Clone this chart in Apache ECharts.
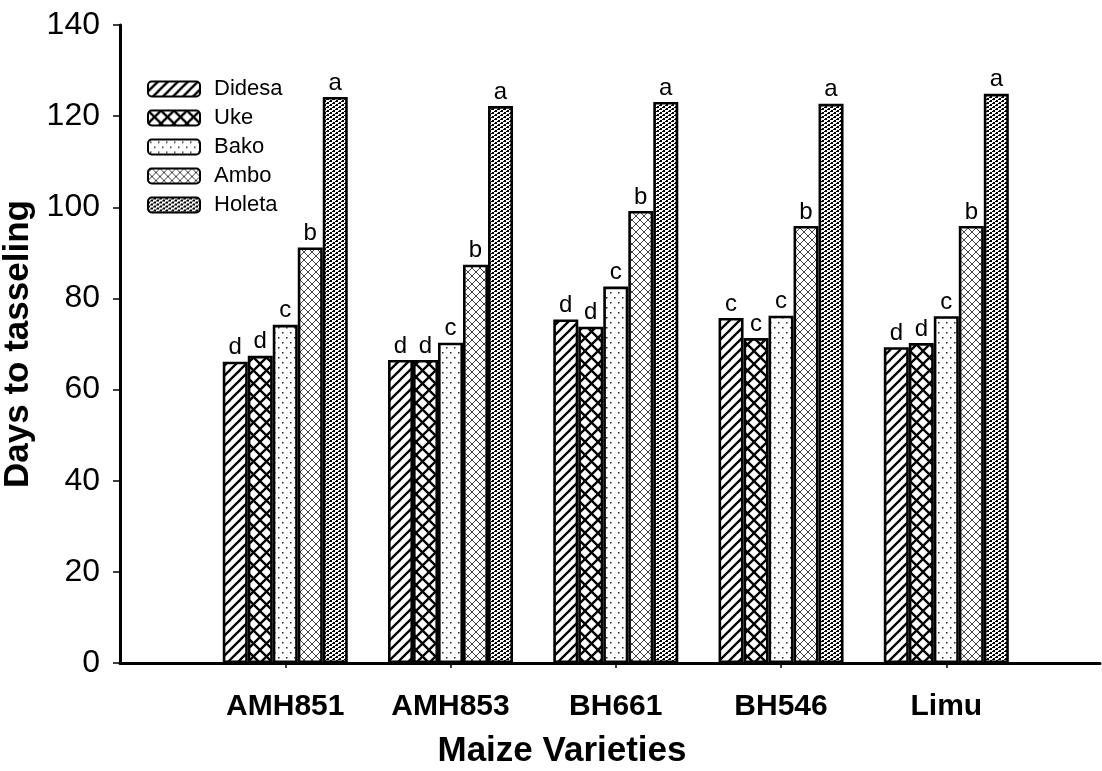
<!DOCTYPE html>
<html>
<head>
<meta charset="utf-8">
<script src="https://cdn.jsdelivr.net/npm/echarts@6/dist/echarts.min.js"></script>
<style>
  html, body { margin: 0; padding: 0; background: #fff; }
  #chart { width: 1102px; height: 771px; }
</style>
</head>
<body>
<div id="chart"></div>
<script>
// maize varieties on the x axis (placed at 1..5 on a value axis)
const categories = ['AMH851', 'AMH853', 'BH661', 'BH546', 'Limu'];
const locations = ['Didesa', 'Uke', 'Bako', 'Ambo', 'Holeta'];

// days to tasseling, one array per location
const didesa = [66.1, 66.5, 75.4, 75.7, 69.3];
const uke = [67.4, 66.5, 73.8, 71.3, 70.2];
const bako = [74.2, 70.3, 82.6, 76.2, 76.1];
const ambo = [91.2, 87.4, 99.2, 95.9, 95.9];
const holeta = [124.2, 122.2, 123.1, 122.7, 124.9];

// mean separation letters
const didesaLetters = ['d', 'd', 'd', 'c', 'd'];
const ukeLetters = ['d', 'd', 'd', 'c', 'd'];
const bakoLetters = ['c', 'c', 'c', 'c', 'c'];
const amboLetters = ['b', 'b', 'b', 'b', 'b'];
const holetaLetters = ['a', 'a', 'a', 'a', 'a'];

const values = [didesa, uke, bako, ambo, holeta];
const letters = [didesaLetters, ukeLetters, bakoLetters, amboLetters, holetaLetters];

// fill patterns drawn on small canvases
function tile(w, h, draw) {
  const c = document.createElement('canvas');
  c.width = w;
  c.height = h;
  const ctx = c.getContext('2d');
  ctx.fillStyle = '#fff';
  ctx.fillRect(0, 0, w, h);
  draw(ctx);
  return { image: c, repeat: 'repeat' };
}

function line(ctx, x1, y1, x2, y2) {
  ctx.beginPath();
  ctx.moveTo(x1, y1);
  ctx.lineTo(x2, y2);
  ctx.stroke();
}

const patterns = [
  // Didesa: forward diagonal hatch
  tile(10, 10, function(ctx) {
    ctx.strokeStyle = '#000';
    ctx.lineWidth = 2.3;
    line(ctx, -2, 12, 12, -2);
    line(ctx, -12, 12, 2, -2);
    line(ctx, 8, 12, 22, -2);
  }),
  // Uke: cross hatch
  tile(13, 13, function(ctx) {
    ctx.strokeStyle = '#000';
    ctx.lineWidth = 2.3;
    line(ctx, -1, 14, 14, -1);
    line(ctx, -1, -1, 14, 14);
  }),
  // Bako: sparse dots
  tile(8, 10, function(ctx) {
    ctx.fillStyle = '#222';
    ctx.fillRect(2, 2, 1.5, 1.5);
    ctx.fillRect(6, 7, 1.5, 1.5);
  }),
  // Ambo: thin grey weave
  tile(8, 8, function(ctx) {
    ctx.strokeStyle = '#444';
    ctx.lineWidth = 1;
    line(ctx, 0, 4, 4, 0);
    line(ctx, 4, 0, 8, 4);
    line(ctx, 0, 4, 4, 8);
    line(ctx, 4, 8, 8, 12);
    line(ctx, 4, 8, 8, 4);
  }),
  // Holeta: dense dark specks
  tile(6, 4, function(ctx) {
    ctx.fillStyle = '#000';
    ctx.fillRect(0, 0, 2, 2);
    ctx.fillRect(3, 2, 2, 2);
    ctx.fillRect(5, 1, 1, 1);
    ctx.fillRect(2, 3, 1, 1);
  })
];

const font = '"Liberation Sans", Arial, sans-serif';

const series = locations.map(function(name, i) {
  return {
    name: name,
    type: 'bar',
    barWidth: 25,
    barGap: '0%',
    data: values[i].map(function(v, j) { return [j + 1, v]; }),
    itemStyle: {
      color: patterns[i],
      borderColor: '#000',
      borderWidth: 2.6
    },
    label: {
      show: true,
      position: 'top',
      distance: 2,
      color: '#000',
      fontFamily: font,
      fontSize: 24,
      formatter: function(p) {
        return letters[i][p.dataIndex];
      }
    }
  };
});

const chart = echarts.init(document.getElementById('chart'), null, { renderer: 'canvas' });
chart.setOption({
  animation: false,
  backgroundColor: '#fff',
  textStyle: { fontFamily: font },
  grid: { left: 120, right: 2, top: 25, bottom: 108, outerBoundsMode: 'none', containLabel: false },
  legend: {
    left: 142,
    top: 73,
    orient: 'vertical',
    itemWidth: 52,
    itemHeight: 15,
    itemGap: 7,
    textStyle: { fontSize: 22, color: '#000', fontFamily: font, padding: [0, 0, 0, 9] },
    data: locations
  },
  graphic: [{
    type: 'text',
    x: 562,
    y: 751,
    style: {
      text: 'Maize Varieties',
      fill: '#000',
      font: 'bold 35px ' + font,
      textAlign: 'center',
      textVerticalAlign: 'middle'
    }
  }],
  xAxis: {
    type: 'value',
    min: 0,
    max: 5.93,
    interval: 1,
    splitLine: { show: false },
    axisLine: { onZero: false, lineStyle: { color: '#000', width: 3 } },
    axisTick: {
      show: true,
      length: 5,
      customValues: [1, 2, 3, 4, 5],
      lineStyle: { color: '#000', width: 1.5 }
    },
    axisLabel: {
      customValues: [1, 2, 3, 4, 5],
      margin: 29,
      fontSize: 30,
      fontWeight: 'bold',
      color: '#000',
      formatter: function(v) {
        return categories[Math.round(v) - 1] || '';
      }
    }
  },
  yAxis: {
    type: 'value',
    min: 0,
    max: 140,
    interval: 20,
    splitLine: { show: false },
    name: 'Days to tasseling',
    nameLocation: 'middle',
    nameGap: 78,
    nameTextStyle: { fontSize: 35, fontWeight: 'bold', color: '#000' },
    axisLine: { show: true, lineStyle: { color: '#000', width: 3 } },
    axisTick: { show: true, length: 7, lineStyle: { color: '#000', width: 1.5 } },
    axisLabel: { margin: 20, fontSize: 32, color: '#000' }
  },
  series: series
});
</script>
</body>
</html>
